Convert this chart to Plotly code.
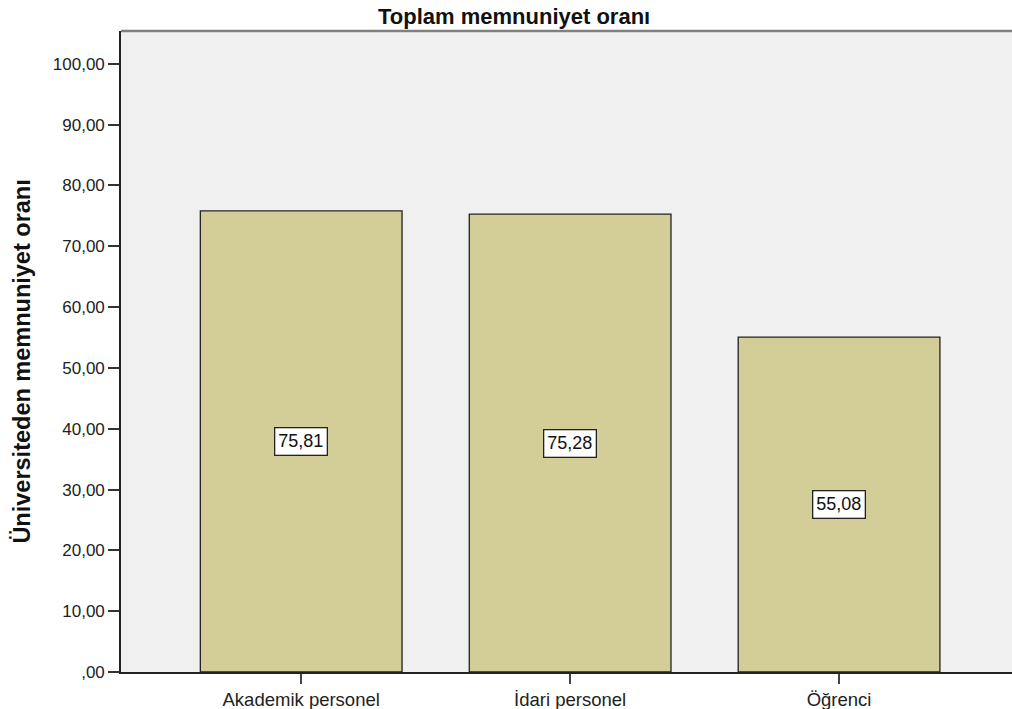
import plotly.graph_objects as go

categories = ["Akademik personel", "İdari personel", "Öğrenci"]
values = [75.81, 75.28, 55.08]
value_labels = ["75,81", "75,28", "55,08"]
tick_vals = [0, 10, 20, 30, 40, 50, 60, 70, 80, 90, 100]
tick_text = [",00", "10,00", "20,00", "30,00", "40,00", "50,00", "60,00", "70,00", "80,00", "90,00", "100,00"]

FONT = "Liberation Sans, Arial, sans-serif"

fig = go.Figure()
fig.add_trace(go.Bar(
    x=categories, y=values, width=0.75,
    marker=dict(color="#D3CE97", line=dict(color="#222222", width=1.3)),
    hoverinfo="skip", showlegend=False,
))

for c, v, t in zip(categories, values, value_labels):
    fig.add_annotation(
        x=c, y=v / 2, text=t, showarrow=False,
        font=dict(family=FONT, size=18, color="#111111"),
        bgcolor="white", bordercolor="#222222", borderwidth=1.3, borderpad=3,
    )

# top frame line
fig.add_shape(type="line", xref="paper", yref="paper", x0=0, x1=1, y0=1, y1=1,
              line=dict(color="#808080", width=2.5))

# y-axis title
fig.add_annotation(
    xref="paper", yref="paper", x=-0.111, y=0.4844,
    text="<b>Üniversiteden memnuniyet oranı</b>", textangle=-90, showarrow=False,
    xanchor="center", yanchor="middle",
    font=dict(family=FONT, size=23.5, color="#111111"),
)

fig.update_layout(
    width=1012, height=709,
    margin=dict(l=121, r=0, t=31, b=37),
    paper_bgcolor="white", plot_bgcolor="#F0F0F0",
    title=dict(text="<b>Toplam memnuniyet oranı</b>", x=0.508, xanchor="center",
               xref="container", yref="container",
               y=0.977, yanchor="middle",
               font=dict(family=FONT, size=22, color="#111111")),
    font=dict(family=FONT),
)
fig.update_xaxes(
    range=[-0.67, 2.643], showgrid=False, zeroline=False,
    showline=True, linecolor="#222222", linewidth=1.8,
    ticks="outside", ticklen=10, tickcolor="#444444", tickwidth=2,
    tickfont=dict(family=FONT, size=18.5, color="#222222"),
)
fig.update_yaxes(
    range=[0, 105.4], showgrid=False, zeroline=False,
    showline=True, linecolor="#222222", linewidth=1.8,
    ticks="outside", ticklen=11, tickcolor="#333333", tickwidth=2,
    tickvals=tick_vals, ticktext=tick_text,
    tickfont=dict(family=FONT, size=17, color="#222222"),
)

fig.write_html(
    "out.html",
    config={"displayModeBar": False, "staticPlot": True},
    post_script="document.body.style.margin='0';document.body.style.overflow='hidden';",
)
